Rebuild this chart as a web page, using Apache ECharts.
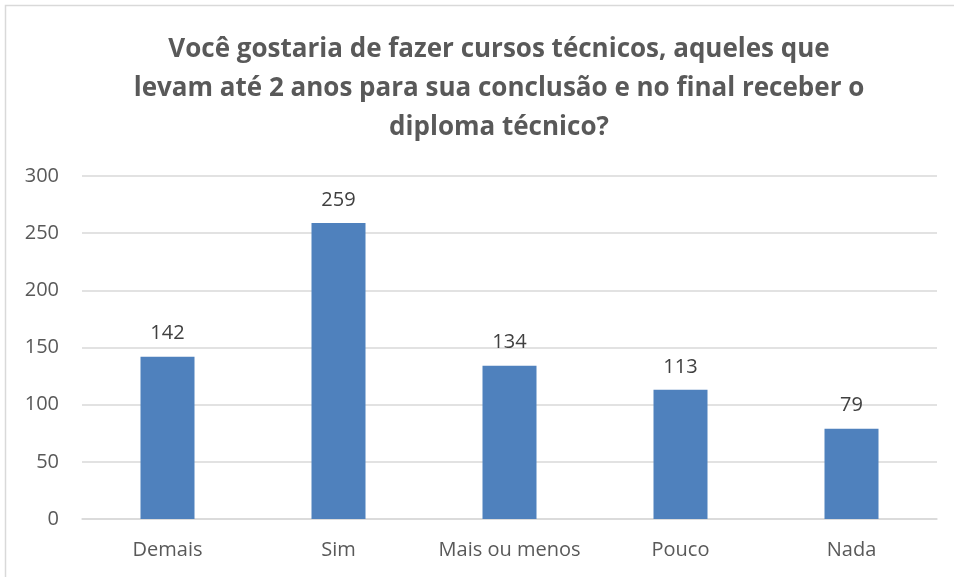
<!DOCTYPE html>
<html>
<head>
<meta charset="utf-8">
<script src="https://cdn.jsdelivr.net/npm/echarts@6/dist/echarts.min.js"></script>
<style>
  html, body { margin: 0; padding: 0; background: #fff; }
  #chart { width: 954px; height: 577px; }
</style>
</head>
<body>
<div id="chart"></div>
<script>
const categories = ['Demais', 'Sim', 'Mais ou menos', 'Pouco', 'Nada']
const values = [142, 259, 134, 113, 79]
const yTicks = [0, 50, 100, 150, 200, 250, 300]

const titleText = 'Você gostaria de fazer cursos técnicos, aqueles que\nlevam até 2 anos para sua conclusão e no final receber o\ndiploma técnico?'

const myChart = echarts.init(document.getElementById('chart'))
const font = 'Open Sans'

const option = {
  animation: false,
  textStyle: { fontFamily: font },
  graphic: [{
    type: 'rect',
    shape: { x: 5.5, y: 5.5, width: 960, height: 600 },
    style: { fill: 'none', stroke: '#d9d9d9', lineWidth: 1.5 }
  }],
  title: {
    text: titleText,
    left: 494,
    textAlign: 'center',
    top: 25,
    textStyle: {
      fontFamily: font,
      fontSize: 26,
      fontWeight: 'bold',
      color: '#595959',
      lineHeight: 39
    }
  },
  grid: { left: 82, right: 17, top: 176, bottom: 58 },
  xAxis: {
    type: 'category',
    data: categories,
    axisLine: { lineStyle: { color: '#d9d9d9', width: 1.5 } },
    axisTick: { show: false },
    axisLabel: { interval: 0, color: '#595959', fontSize: 20, margin: 21, fontFamily: font }
  },
  yAxis: {
    type: 'value',
    min: yTicks[0],
    max: yTicks[yTicks.length - 1],
    interval: 50,
    axisLine: { show: false },
    axisTick: { show: false },
    splitLine: { lineStyle: { color: '#d9d9d9', width: 1.5 } },
    axisLabel: { color: '#595959', fontSize: 20, margin: 23, fontFamily: font }
  },
  series: [{
    type: 'bar',
    data: values,
    barWidth: 54,
    itemStyle: { color: '#4f81bd' },
    label: {
      show: true,
      position: 'top',
      distance: 13,
      color: '#404040',
      fontSize: 20,
      fontFamily: font
    }
  }]
}

myChart.setOption(option)
</script>
</body>
</html>
